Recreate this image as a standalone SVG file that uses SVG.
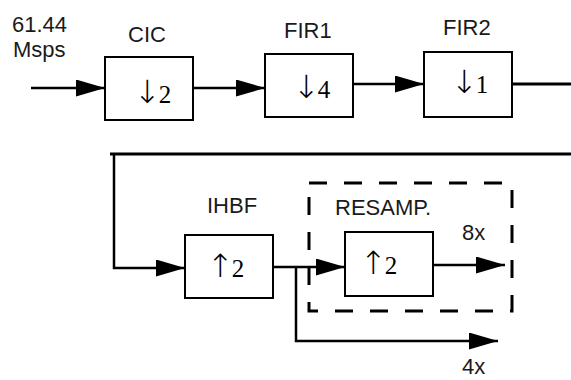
<svg xmlns="http://www.w3.org/2000/svg" width="571" height="380" viewBox="0 0 571 380">
<style>
.box{fill:#fff;stroke:#000;stroke-width:2}
.dash{fill:none;stroke:#000;stroke-width:3;stroke-dasharray:18 17}
.wire{fill:none;stroke:#000;stroke-width:2.5}
.thick{fill:none;stroke:#000;stroke-width:3}
.lbl{font-family:"Liberation Sans",Arial,sans-serif;font-size:22px;fill:#1a1a1a}
.op{font-family:"Liberation Serif","Times New Roman",serif;font-size:25px;fill:#000}
.arr{font-family:"DejaVu Sans",sans-serif;font-size:32px;font-weight:200}
</style>
<defs>
<marker id="ah" markerUnits="userSpaceOnUse" markerWidth="30" markerHeight="18" refX="29" refY="8.5" orient="auto">
<path d="M0,0 L29,8.5 L0,17 z" fill="#000"/>
</marker>
</defs>
<rect width="571" height="380" fill="#fff"/>
<g id="connectors">
<path class="wire" d="M31,88 H105" marker-end="url(#ah)"/>
<path class="wire" d="M193,88 H265" marker-end="url(#ah)"/>
<path class="wire" d="M353,84 H424" marker-end="url(#ah)"/>
<path class="thick" d="M512,84 H571"/>
<path class="thick" d="M110,154 H571"/>
<path class="wire" d="M114,154 V268 H185" marker-end="url(#ah)"/>
<path class="wire" d="M273,267 H345" marker-end="url(#ah)"/>
<path class="wire" d="M433,265 H505" marker-end="url(#ah)"/>
<path class="wire" d="M296,266 V341 H498" marker-end="url(#ah)"/>
</g>
<g id="input-label">
<text class="lbl" x="12" y="32">61.44</text>
<text class="lbl" x="13" y="57">Msps</text>
</g>
<g id="cic">
<text class="lbl" x="128" y="42">CIC</text>
<rect class="box" x="105" y="57" width="88" height="63"/>
<text class="op" x="134" y="103"><tspan class="arr">↓</tspan><tspan dx="-2">2</tspan></text>
</g>
<g id="fir1">
<text class="lbl" x="284" y="38">FIR1</text>
<rect class="box" x="265" y="54" width="88" height="63"/>
<text class="op" x="293" y="98"><tspan class="arr">↓</tspan><tspan dx="-2">4</tspan></text>
</g>
<g id="fir2">
<text class="lbl" x="443" y="35">FIR2</text>
<rect class="box" x="424" y="52" width="88" height="65"/>
<text class="op" x="451" y="93"><tspan class="arr">↓</tspan><tspan dx="-2">1</tspan></text>
</g>
<g id="ihbf">
<text class="lbl" x="207" y="213">IHBF</text>
<rect class="box" x="185" y="235" width="88" height="63"/>
<text class="op" x="207" y="277"><tspan class="arr">↑</tspan><tspan dx="-2">2</tspan></text>
</g>
<g id="resamp">
<rect class="dash" x="309" y="183" width="203" height="128"/>
<text class="lbl" x="335" y="215">RESAMP.</text>
<rect class="box" x="345" y="232" width="88" height="64"/>
<text class="op" x="360" y="274"><tspan class="arr">↑</tspan><tspan dx="-2">2</tspan></text>
<text class="lbl" x="462" y="240">8x</text>
</g>
<g id="out4x">
<text class="lbl" x="462" y="374">4x</text>
</g>
</svg>
